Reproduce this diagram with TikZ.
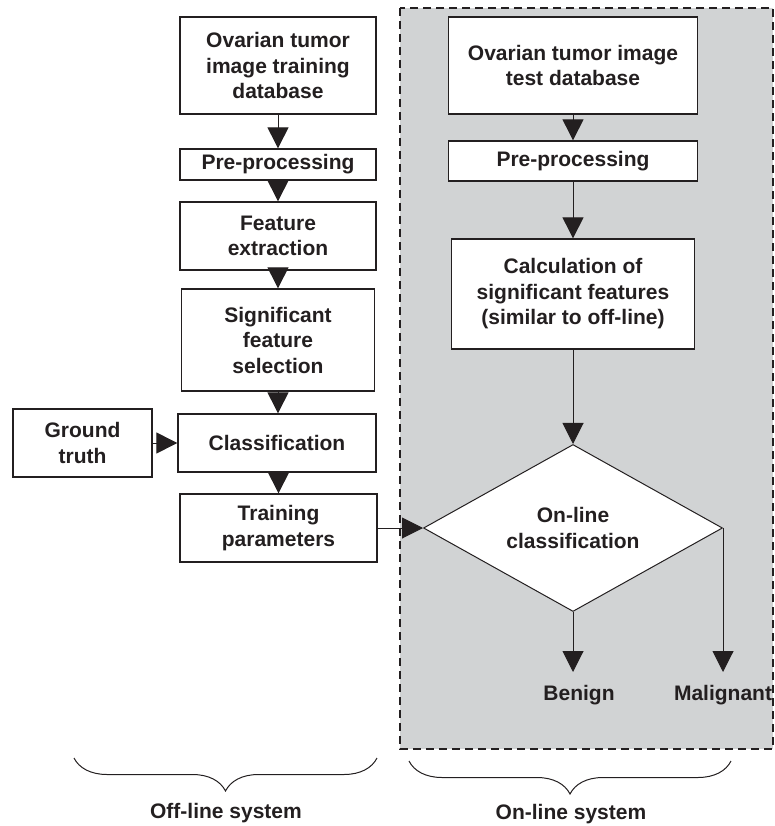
\documentclass[tikz,border=0pt]{standalone}
\usepackage{fontspec}
\setmainfont{Liberation Sans}
\usetikzlibrary{shapes.geometric,arrows.meta,decorations.pathreplacing}
\definecolor{panelgray}{RGB}{209,211,212}
\definecolor{inkgray}{RGB}{35,31,32}
\begin{document}
\begin{tikzpicture}[x=1pt,y=-1pt, color=inkgray]
    \tikzset{boxtext/.style={font=\fontsize{21}{25.5}\selectfont\bfseries, align=center, inner sep=0pt},
             stage/.style={draw, fill=white, line width=1.3pt, boxtext},
             flow/.style={-{Triangle[length=21pt,width=21pt]}, line width=1pt},
             bracket/.style={decorate, decoration={brace, mirror, amplitude=33pt}, line width=1pt}}
    \useasboundingbox (0,0) rectangle (774,826);
    \draw[dash pattern=on 8pt off 5pt, line width=1.4pt, fill=panelgray] (400,8) rectangle (773,749);
    \node[stage, minimum width=196pt, minimum height=97pt] (trainDB) at (278,65.5) {Ovarian tumor\\image training\\database};
    \node[stage, minimum width=196pt, minimum height=31pt] (preL) at (278,164.5) {Pre-processing};
    \node[stage, minimum width=196pt, minimum height=68pt] (featL) at (278,236) {Feature\\extraction};
    \node[stage, minimum width=193pt, minimum height=102pt] (selL) at (278,340) {Significant\\feature\\selection};
    \node[stage, minimum width=198pt, minimum height=58pt] (classL) at (277,443) {Classification};
    \node[stage, minimum width=139pt, minimum height=68pt] (truth) at (82.5,443) {Ground\\truth};
    \node[stage, minimum width=197pt, minimum height=68pt] (paramL) at (278.5,528) {Training\\parameters};
    \node[stage, minimum width=249pt, minimum height=97pt] (testDB) at (573,65.5) {Ovarian tumor image\\test database};
    \node[stage, minimum width=249pt, minimum height=40pt] (preR) at (573,161) {Pre-processing};
    \node[stage, minimum width=243pt, minimum height=110pt] (calc) at (573,294) {Calculation of\\significant features\\(similar to off-line)};
    \node[draw, diamond, fill=white, line width=1pt, minimum width=299pt, minimum height=167pt, aspect=1.79, boxtext] (decide) at (573,528) {On-line\\classification};
    \node[boxtext, anchor=north] (benign) at (579,685) {Benign};
    \node[boxtext, anchor=north] (malign) at (723,685) {Malignant};
    \draw[flow] (trainDB) -- (preL);
    \draw[flow] (preL) -- (featL);
    \draw[flow] (featL) -- (selL);
    \draw[flow] (selL) -- (selL |- classL.north);
    \draw[flow] (truth) -- (classL);
    \draw[flow] (classL.south -| paramL.north) -- (paramL);
    \draw[flow] (paramL.east |- decide.west) -- (decide.west);
    \draw[flow] (testDB) -- (preR);
    \draw[flow] (preR) -- (calc);
    \draw[flow] (calc) -- (decide);
    \draw[flow] (decide.south) -- ([yshift=13pt]decide.south |- benign.north);
    \draw[flow] (decide.east) -- ([yshift=13pt]decide.east |- malign.north);
    \draw[bracket] (74,758) -- (377,758);
    \draw[bracket] (409,761) -- (731,761);
    \node[boxtext] (offline) at (226,813.5) {Off-line system};
    \node[boxtext] (online) at (571,814.5) {On-line system};
\end{tikzpicture}
\end{document}
